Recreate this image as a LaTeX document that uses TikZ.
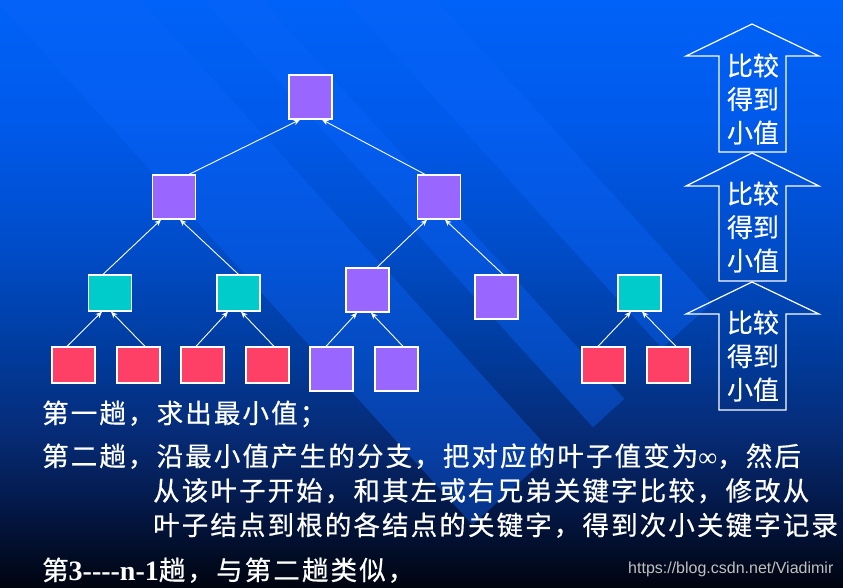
\documentclass[tikz,border=0pt]{standalone}
\usepackage{fontspec}
\usetikzlibrary{arrows.meta,calc}
\newfontfamily\cjk[LetterSpace=8,FakeBold=0.6]{Noto Sans CJK SC}
\newfontfamily\cjkb[FakeBold=0.3]{Noto Sans CJK SC}
\newfontfamily\tnr{Liberation Serif}
\newfontfamily\arial{Liberation Sans}
\definecolor{bga}{HTML}{00040F}
\definecolor{bgb}{HTML}{041A4C}
\definecolor{bgc}{HTML}{062C78}
\definecolor{bgd}{HTML}{003C9E}
\definecolor{bge}{HTML}{004CC8}
\definecolor{bgf}{HTML}{005AEB}
\definecolor{bgg}{HTML}{0062F8}
\definecolor{band}{RGB}{10,100,250}
\definecolor{purp}{RGB}{153,102,255}
\definecolor{cyanbox}{RGB}{0,204,204}
\definecolor{redbox}{RGB}{255,64,102}
\definecolor{wmgray}{RGB}{192,192,192}
\pgfdeclareverticalshading{bgsh}{100bp}{color(0bp)=(bga); color(25bp)=(bga); color(32.41bp)=(bgb); color(38.37bp)=(bgc); color(45.19bp)=(bgd); color(53.70bp)=(bge); color(64.78bp)=(bgf); color(75bp)=(bgg); color(100bp)=(bgg)}
\tikzset{
  box/.style={draw=white, line width=1.3pt, inner sep=0pt, minimum width=43pt},
  pbox/.style={box, fill=purp, minimum height=44pt},
  cbox/.style={box, fill=cyanbox, minimum height=36pt},
  rbox/.style={box, fill=redbox, minimum height=36pt},
  link/.style={draw=white, line width=0.9pt, -{Stealth[length=6.5pt,width=5.5pt]}},
  blk/.style={draw=white, line width=1.2pt},
  lbl/.style={text=white, font=\cjkb\fontsize{26}{33.5}\selectfont, align=center, inner sep=0pt},
  body/.style={text=white, anchor=base west, inner sep=0pt, font=\cjk\fontsize{26.5}{30}\selectfont},
  stripe/.style={fill=band, fill opacity=0.4},
}
\begin{document}
\begin{tikzpicture}[x=1pt,y=-1pt]
\useasboundingbox (0,0) rectangle (843,587);
\shade[shading=bgsh] (0,0) rectangle (843,587);
\begin{scope}
  \clip (0,0) rectangle (843,587);
  \fill[stripe] (31.9,-119.9) -- (552.3,452.5) -- (472.6,524.9) -- (-47.7,-47.5) -- cycle;
  \fill[stripe] (98.1,-180) -- (624.3,398.8) -- (593,427.3) -- (66.7,-151.6) -- cycle;
  \fill[stripe] (193.7,-267) -- (711.8,303) -- (662,348.2) -- (143.9,-221.7) -- cycle;
\end{scope}

% tree nodes
\node[pbox] (r) at (310.5,97) {};
\node[pbox] (a) at (174,197) {};
\node[pbox] (b) at (439,197) {};
\node[cbox] (c) at (110,293) {};
\node[cbox] (d) at (238.5,293) {};
\node[pbox] (e) at (367.5,290) {};
\node[pbox] (f) at (496.5,297) {};
\node[cbox] (g) at (639.5,293) {};
\node[rbox] (l1) at (73.5,365) {};
\node[rbox] (l2) at (138.5,365) {};
\node[rbox] (l3) at (202.5,365) {};
\node[rbox] (l4) at (267.5,365) {};
\node[pbox] (l5) at (331.5,369) {};
\node[pbox] (l6) at (396.5,369) {};
\node[rbox] (l7) at (603.5,365) {};
\node[rbox] (l8) at (668.5,365) {};

% connectors
\draw[link] ($(a.north)+(15,0)$) -- ($(r.south)+(-10.5,0)$);
\draw[link] ($(b.north)+(-14,0)$) -- ($(r.south)+(11.5,0)$);
\draw[link] ($(c.north)+(-7,0)$) -- ($(a.south)+(-13,0)$);
\draw[link] ($(d.north)+(0,0)$) -- ($(a.south)+(6,0)$);
\draw[link] ($(e.north)+(9.5,0)$) -- ($(b.south)+(-12,0)$);
\draw[link] ($(f.north)+(6.5,0)$) -- ($(b.south)+(6,0)$);
\draw[link] ($(l1.north)+(-6.5,0)$) -- ($(c.south)+(-8,0)$);
\draw[link] ($(l2.north)+(6.5,0)$) -- ($(c.south)+(1,0)$);
\draw[link] ($(l3.north)+(-6.5,0)$) -- ($(d.south)+(-10.5,0)$);
\draw[link] ($(l4.north)+(6.5,0)$) -- ($(d.south)+(2.5,0)$);
\draw[link] ($(l5.north)+(-5.5,0)$) -- ($(e.south)+(-10.5,0)$);
\draw[link] ($(l6.north)+(6.5,0)$) -- ($(e.south)+(3.5,0)$);
\draw[link] ($(l7.north)+(-5.5,0)$) -- ($(g.south)+(-8.5,0)$);
\draw[link] ($(l8.north)+(7.5,0)$) -- ($(g.south)+(2.5,0)$);

% block arrows
\draw[blk] (752,24) -- (819,56) -- (786,56) -- (786,152) -- (719,152) -- (719,56) -- (686,56) -- cycle;
\draw[blk] (752,153) -- (819,186) -- (786,186) -- (786,281) -- (719,281) -- (719,186) -- (686,186) -- cycle;
\draw[blk] (752,282) -- (819,314) -- (786,314) -- (786,410) -- (719,410) -- (719,314) -- (686,314) -- cycle;
\node[lbl] (t1) at (753,99) {比较\\得到\\小值};
\node[lbl] (t2) at (753,227) {比较\\得到\\小值};
\node[lbl] (t3) at (753,356) {比较\\得到\\小值};

% text
\node[body] (s1) at (42,423) {第一趟，求出最小值；};
\node[body] (s2) at (42,466) {第二趟，沿最小值产生的分支，把对应的叶子值变为{\tnr ∞}，然后};
\node[body] (s3) at (153,500.5) {从该叶子开始，和其左或右兄弟关键字比较，修改从};
\node[body] (s4) at (153,535) {叶子结点到根的各结点的关键字，得到次小关键字记录};
\node[body] (s5) at (42,580) {第{\tnr\bfseries\fontsize{28}{30}\selectfont 3----n-1}趟，与第二趟类似，};
\node[anchor=base west, inner sep=0pt, text=wmgray, font=\arial\fontsize{16}{18}\selectfont] (wm) at (628,573) {https://blog.csdn.net/Viadimir};
\end{tikzpicture}
\end{document}
